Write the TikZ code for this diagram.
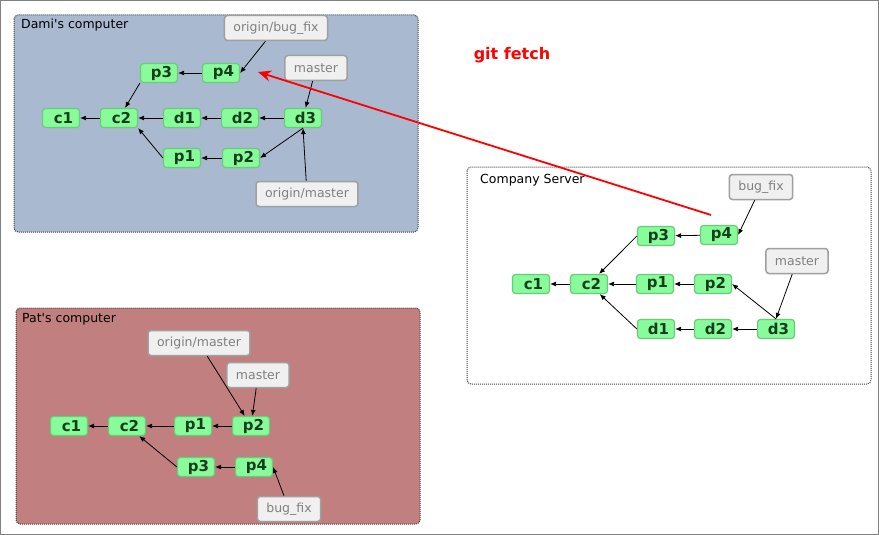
\documentclass[tikz,border=0pt]{standalone}
\usepackage{fontspec}
\setmainfont{DejaVu Sans}
\usetikzlibrary{arrows.meta}
\definecolor{commitfill}{RGB}{136,252,155}
\definecolor{commitline}{RGB}{104,204,120}
\definecolor{committext}{RGB}{22,62,28}
\definecolor{branchfill}{RGB}{240,240,240}
\definecolor{branchline}{RGB}{160,160,160}
\definecolor{branchtext}{RGB}{128,128,128}
\definecolor{damifill}{RGB}{169,185,207}
\definecolor{patfill}{RGB}{193,127,127}

\begin{document}
\begin{tikzpicture}[
      x=1pt, y=-1pt,
      commit/.style={draw=commitline, fill=commitfill, line width=1.2pt,
        rounded corners=3pt, minimum width=37pt, minimum height=19pt,
        inner sep=0pt, text=committext,
        execute at begin node=\hspace*{5pt},
        font=\fontsize{15}{15}\selectfont\bfseries},
      branch/.style={draw=branchline, fill=branchfill, line width=1.5pt,
        rounded corners=3pt, minimum height=25pt, inner xsep=9pt,
        inner ysep=0pt, text=branchtext,
        font=\fontsize{12.5}{14}\selectfont},
      repo/.style={draw=black!75, line width=1pt, dash pattern=on 1pt off 1pt,
        rounded corners=4pt},
      title/.style={anchor=west, inner sep=0pt,
        font=\fontsize{12.5}{14}\selectfont},
      parent/.style={line width=0.8pt, -{Latex[length=6pt,width=5pt]}},
      fetch/.style={red, line width=1.8pt, -{Stealth[length=13pt,width=11pt]}}
      ]
      \useasboundingbox (0,0) rectangle (879,535);
      \draw[gray] (0.5,0.5) rectangle (878.5,534.5);

      % Dami's computer
      \draw[repo, fill=damifill] (14,15) rectangle (418,232);
      \node[title] (dtitle) at (21,25) {Dami\textquotesingle s computer};
      \node[commit] (dc1) at (61,118) {c1};
      \node[commit] (dc2) at (119,118) {c2};
      \node[commit] (dd1) at (182,118) {d1};
      \node[commit] (dd2) at (240,118) {d2};
      \node[commit] (dd3) at (303,118) {d3};
      \node[commit] (dp3) at (159,73) {p3};
      \node[commit] (dp4) at (221,73) {p4};
      \node[commit] (dp1) at (182,158) {p1};
      \node[commit] (dp2) at (241,158) {p2};
      \node[branch] (dbug) at (276,28) {origin/bug\_fix};
      \node[branch] (dmaster) at (316,68) {master};
      \node[branch] (dorigin) at (307,194) {origin/master};
      \draw[parent] (dc2) -- (dc1);
      \draw[parent] (dd1) -- (dc2);
      \draw[parent] (dd2) -- (dd1);
      \draw[parent] (dd3) -- (dd2);
      \draw[parent] (dp4) -- (dp3);
      \draw[parent] (dp3.south west) -- (dc2);
      \draw[parent] (dp1.west) -- (dc2.south east);
      \draw[parent] (dp2) -- (dp1);
      \draw[parent] (dd3.south) -- (dp2.east);
      \draw[parent] (dbug) -- (dp4.east);
      \draw[parent] (dmaster) -- (dd3);
      \draw[parent] (dorigin) -- (dd3.south);

      % Company Server
      \draw[repo, fill=white] (467,167) rectangle (871,384);
      \node[title] (stitle) at (480,180) {Company Server};
      \node[commit] (sc1) at (531,284) {c1};
      \node[commit] (sc2) at (589,284) {c2};
      \node[commit] (sp1) at (655,284) {p1};
      \node[commit] (sp2) at (713,284) {p2};
      \node[commit] (sp3) at (656,236) {p3};
      \node[commit] (sp4) at (719,235) {p4};
      \node[commit] (sd1) at (656,329) {d1};
      \node[commit] (sd2) at (713,329) {d2};
      \node[commit] (sd3) at (776,329) {d3};
      \node[branch] (sbug) at (761,187) {bug\_fix};
      \node[branch] (smaster) at (797,261) {master};
      \draw[parent] (sc2) -- (sc1);
      \draw[parent] (sp1) -- (sc2);
      \draw[parent] (sp2) -- (sp1);
      \draw[parent] (sp4) -- (sp3);
      \draw[parent] (sp3.west) -- (sc2);
      \draw[parent] (sd1.west) -- (sc2);
      \draw[parent] (sd2) -- (sd1);
      \draw[parent] (sd3) -- (sd2);
      \draw[parent] (sd3.north) -- (sp2.east);
      \draw[parent] (sbug) -- (sp4.east);
      \draw[parent] (smaster) -- (sd3.north);

      % Pat's computer
      \draw[repo, fill=patfill] (16,308) rectangle (420,524);
      \node[title] (ptitle) at (22,319) {Pat\textquotesingle s computer};
      \node[commit] (pc1) at (69,426) {c1};
      \node[commit] (pc2) at (127,426) {c2};
      \node[commit] (pp1) at (193,426) {p1};
      \node[commit] (pp2) at (251,426) {p2};
      \node[commit] (pp3) at (196,467) {p3};
      \node[commit] (pp4) at (254,467) {p4};
      \node[branch] (porigin) at (199,343) {origin/master};
      \node[branch] (pmaster) at (258,375) {master};
      \node[branch] (pbug) at (289,509) {bug\_fix};
      \draw[parent] (pc2) -- (pc1);
      \draw[parent] (pp1) -- (pc2);
      \draw[parent] (pp2) -- (pp1);
      \draw[parent] (pp4) -- (pp3);
      \draw[parent] (pp3.west) -- (pc2);
      \draw[parent] (porigin) -- (pp2);
      \draw[parent] (pmaster) -- (pp2);
      \draw[parent] (pbug) -- (pp4.east);

      % fetch
      \node[red, font=\fontsize{16}{16}\selectfont\bfseries] (gitfetch) at (512,55) {git fetch};
      \coordinate (fetchfrom) at (711,215);
      \coordinate (fetchto) at (258,72);
      \draw[fetch] (fetchfrom) -- (fetchto);
    \end{tikzpicture}
\end{document}
